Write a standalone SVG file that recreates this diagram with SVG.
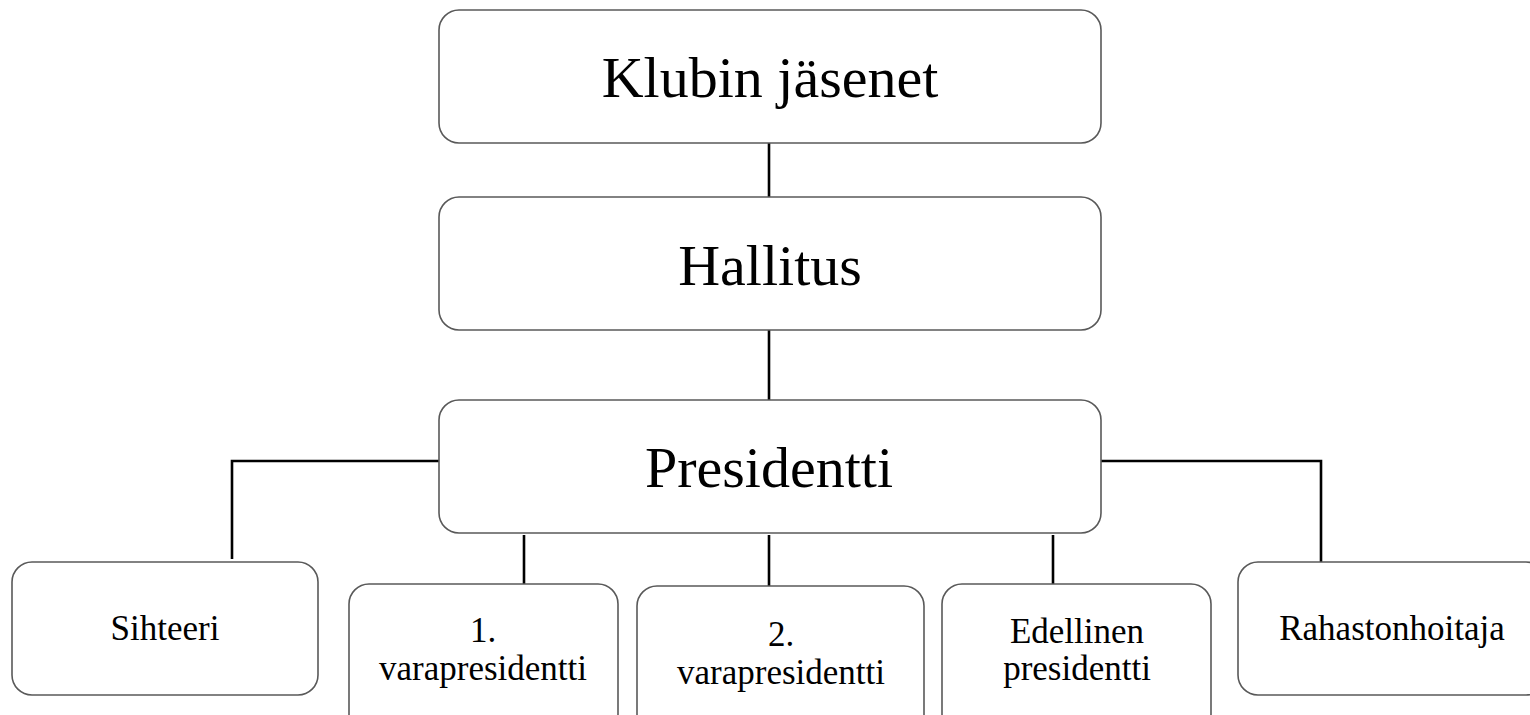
<svg xmlns="http://www.w3.org/2000/svg" width="1530" height="715" viewBox="0 0 1530 715">
<style>
.box{fill:#fff;stroke:#595959;stroke-width:1.6}
.con{fill:none;stroke:#000;stroke-width:2.6}
.big{font-family:"Liberation Serif","DejaVu Serif",serif;font-size:58px;fill:#000;text-anchor:middle}
.sm{font-family:"Liberation Serif","DejaVu Serif",serif;font-size:35px;fill:#000;text-anchor:middle}
</style>
<rect width="1530" height="715" fill="#fff"/>
<g id="connectors">
<line class="con" x1="769" y1="143" x2="769" y2="197"/>
<line class="con" x1="769" y1="330" x2="769" y2="400"/>
<polyline class="con" points="439,461 232,461 232,559"/>
<polyline class="con" points="1101,461 1321,461 1321,562"/>
<line class="con" x1="524" y1="535" x2="524" y2="584"/>
<line class="con" x1="769" y1="535" x2="769" y2="586"/>
<line class="con" x1="1053" y1="535" x2="1053" y2="584"/>
</g>
<g id="klubin">
<rect class="box" x="439" y="10" width="662" height="133" rx="20"/>
<text class="big" x="770" y="97">Klubin jäsenet</text>
</g>
<g id="hallitus">
<rect class="box" x="439" y="197" width="662" height="133" rx="20"/>
<text class="big" x="770" y="285">Hallitus</text>
</g>
<g id="presidentti">
<rect class="box" x="439" y="400" width="662" height="133" rx="20"/>
<text class="big" x="769" y="487">Presidentti</text>
</g>
<g id="sihteeri">
<rect class="box" x="12" y="562" width="306" height="133" rx="20"/>
<text class="sm" x="165" y="640">Sihteeri</text>
</g>
<g id="vara1">
<rect class="box" x="349" y="584" width="269" height="150" rx="20"/>
<text class="sm" x="483" y="642">1.</text>
<text class="sm" x="483" y="680">varapresidentti</text>
</g>
<g id="vara2">
<rect class="box" x="637" y="586" width="287" height="150" rx="20"/>
<text class="sm" x="781" y="646">2.</text>
<text class="sm" x="781" y="684">varapresidentti</text>
</g>
<g id="edellinen">
<rect class="box" x="942" y="584" width="269" height="150" rx="20"/>
<text class="sm" x="1077" y="643">Edellinen</text>
<text class="sm" x="1077" y="680">presidentti</text>
</g>
<g id="rahasto">
<rect class="box" x="1238" y="562" width="308" height="133" rx="20"/>
<text class="sm" x="1392" y="640">Rahastonhoitaja</text>
</g>
</svg>
